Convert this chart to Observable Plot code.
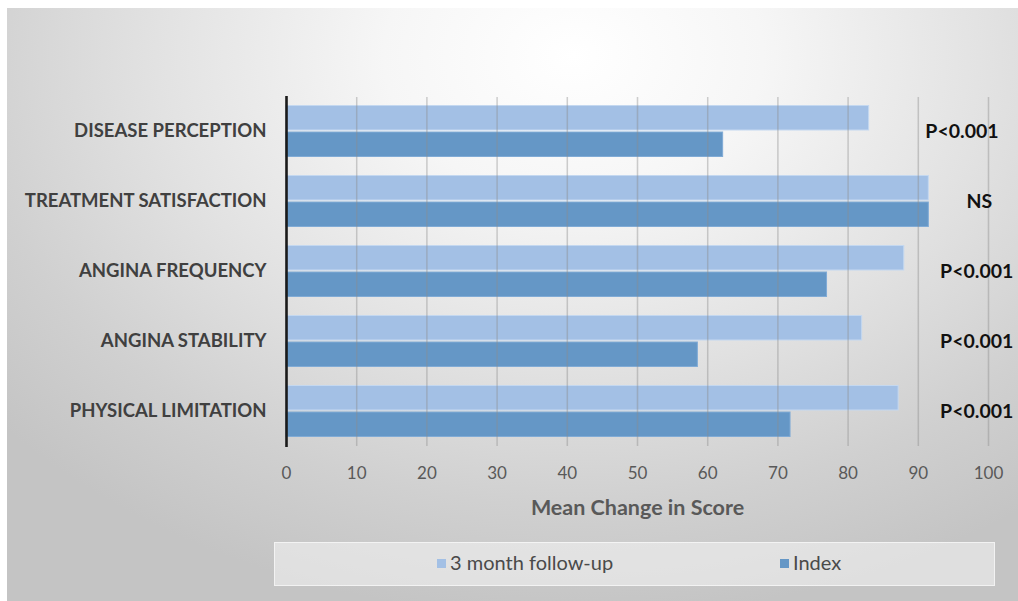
<!DOCTYPE html>
<html>
<head>
<meta charset="utf-8">
<script src="https://cdn.jsdelivr.net/npm/d3@7"></script>
<script src="https://cdn.jsdelivr.net/npm/@observablehq/plot@0.6"></script>
<style>
  body { margin: 0; background: #fff; }
  #wrap { position: relative; width: 1018px; height: 601px; overflow: hidden; background: #fff; font-family: Lato, "Open Sans", sans-serif; }
  #panel {
    position: absolute; left: 7px; top: 8px; right: 0; bottom: 0;
    background: radial-gradient(ellipse 75% 95% at 56% 8%, #ffffff 0%, #f6f6f6 25%, #e2e2e2 55%, #d0d0d0 80%, #c4c4c4 100%);
  }
  #chart { position: absolute; left: 0; top: 0; }
  #chart svg { background: transparent; overflow: hidden; }
  #legend {
    position: absolute; left: 274px; top: 542px; width: 719px; height: 42px;
    background: rgba(245,245,245,0.55); border: 1px solid rgba(255,255,255,0.6);
    font-size: 20px; color: #4a4a4a;
  }
  .item { position: absolute; top: -2px; height: 42px; display: flex; align-items: center; white-space: nowrap; }
  .sw { width: 9px; height: 9px; margin-right: 4px; margin-top: 3px; }
</style>
</head>
<body>
<div id="wrap">
  <div id="panel"></div>
  <div id="chart"></div>
  <div id="legend"></div>
</div>
<script>
// Scale categories, top to bottom
const categories = ["DISEASE PERCEPTION", "TREATMENT SATISFACTION", "ANGINA FREQUENCY", "ANGINA STABILITY", "PHYSICAL LIMITATION"];
// Mean scores per category
const followUp = [83, 91.5, 88, 82, 87.2];
const indexScores = [62.2, 91.5, 77, 58.6, 71.8];
// Significance of the change
const pValues = ["P<0.001", "NS", "P<0.001", "P<0.001", "P<0.001"];
const seriesNames = ["3 month follow-up", "Index"];
const xTicks = [0, 10, 20, 30, 40, 50, 60, 70, 80, 90, 100];
const xTitle = "Mean Change in Score";

const colors = { "3 month follow-up": "#a3c0e5", "Index": "#6597c6" };
const edges = { "3 month follow-up": "#c4d8f0", "Index": "#80abd6" };

const rows = categories.flatMap((c, i) => [
  { category: c, series: seriesNames[0], value: followUp[i] },
  { category: c, series: seriesNames[1], value: indexScores[i] }
]);
const pRows = categories.map((c, i) => ({ category: c, label: pValues[i], i }));

function build(bw) {
  const half = bw / 2;
  const pText = { y: "category", text: "label", fontSize: 19.5, fontWeight: "bold", fill: "#111" };
  return Plot.plot({
    width: 1018,
    height: 540,
    marginLeft: 286,
    marginRight: 30,
    marginTop: 97,
    marginBottom: 94,
    style: { fontFamily: "Lato, 'Open Sans', sans-serif", background: "transparent", overflow: "hidden" },
    x: { domain: [0, 100] },
    y: { domain: categories, paddingInner: 0.257, paddingOuter: 0.12, axis: null },
    marks: [
      Plot.barX(rows.filter(d => d.series === seriesNames[0]), {
        x: "value", y: "category", fill: colors[seriesNames[0]], stroke: edges[seriesNames[0]], strokeWidth: 1,
        insetBottom: half + 1, insetTop: 0.5
      }),
      Plot.barX(rows.filter(d => d.series === seriesNames[1]), {
        x: "value", y: "category", fill: colors[seriesNames[1]], stroke: edges[seriesNames[1]], strokeWidth: 1,
        insetTop: half + 1, insetBottom: 0.5
      }),
      Plot.gridX(xTicks.filter(t => t > 0), { stroke: "#8c8c8c", strokeOpacity: 0.42, strokeWidth: 1.5 }),
      Plot.ruleX([0], { stroke: "#1a1a1a", strokeWidth: 2.6, insetTop: -1, insetBottom: -1 }),
      Plot.axisX(xTicks, { tickSize: 0, tickPadding: 20, fontSize: 17, fill: "#595959", label: null }),
      Plot.axisY({ tickSize: 0, tickPadding: 20, fontSize: 18.5, fontWeight: "bold", fill: "#404040", label: null }),
      Plot.text([xTitle], { frameAnchor: "bottom", dy: 68, fontSize: 21.5, fontWeight: "bold", fill: "#595959" }),
      // significance labels at the right of each group
      Plot.text(pRows.filter(d => d.label !== "NS"), {
        ...pText, x: d => d.i === 0 ? 91 : 93.1, textAnchor: "start"
      }),
      Plot.text(pRows.filter(d => d.label === "NS"), {
        ...pText, x: 98.7, textAnchor: "middle"
      })
    ]
  });
}

const probe = build(0);
const chart = build(probe.scale("y").bandwidth);
document.getElementById("chart").append(chart);

// Legend
const legend = document.getElementById("legend");
const legendLeft = [162, 505];
seriesNames.forEach((s, i) => {
  const item = document.createElement("div");
  item.className = "item";
  item.style.left = legendLeft[i] + "px";
  const sw = document.createElement("span");
  sw.className = "sw";
  sw.style.background = colors[s];
  item.append(sw, document.createTextNode(s));
  legend.append(item);
});
</script>
</body>
</html>
